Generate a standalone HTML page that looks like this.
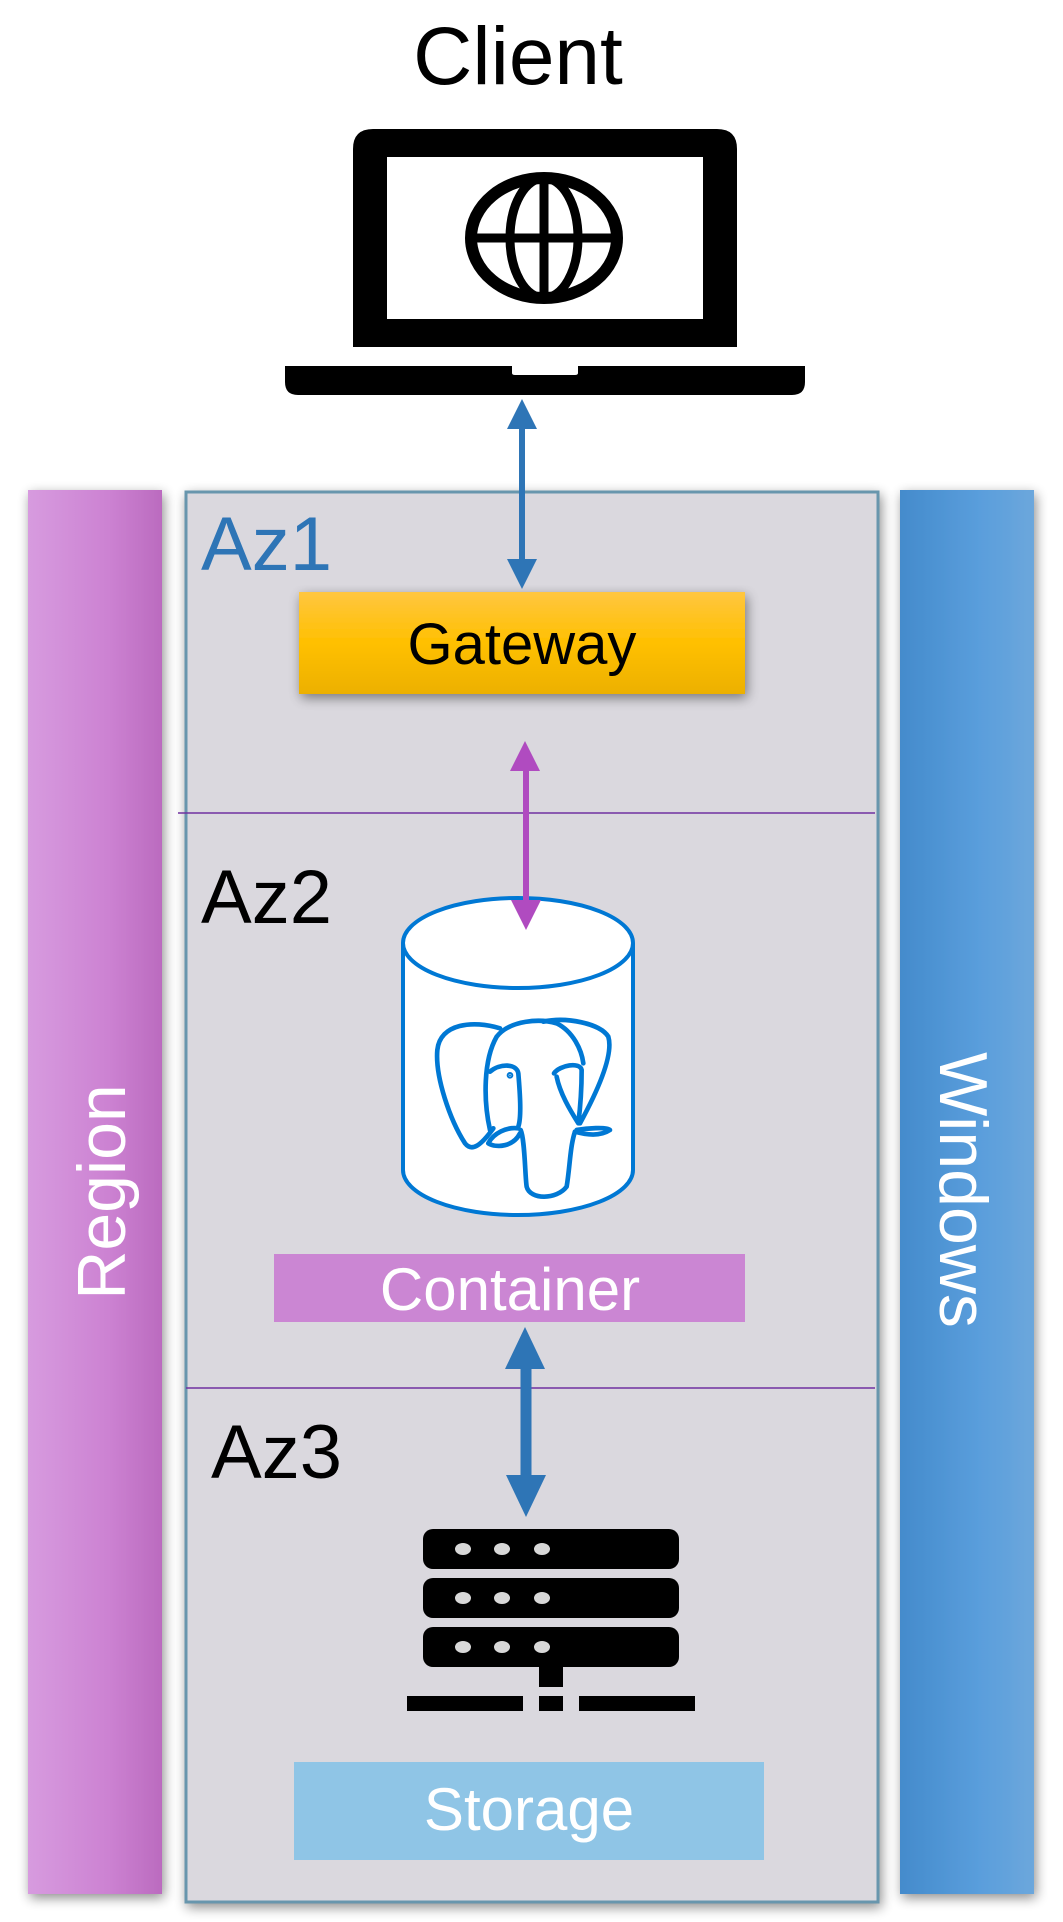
<!DOCTYPE html>
<html><head><meta charset="utf-8"><style>
html,body{margin:0;padding:0;background:#fff;}
svg{display:block;}
text{font-family:"Liberation Sans","DejaVu Sans",sans-serif;}
</style></head><body>
<svg width="1063" height="1922" viewBox="0 0 1063 1922" xmlns="http://www.w3.org/2000/svg">
<defs>
<linearGradient id="reg" x1="0" x2="1"><stop offset="0" stop-color="#d79bdf"/><stop offset="0.6" stop-color="#cc82d2"/><stop offset="1" stop-color="#bb6bbf"/></linearGradient>
<linearGradient id="win" x1="0" x2="1"><stop offset="0" stop-color="#448bcc"/><stop offset="0.6" stop-color="#5a9edc"/><stop offset="1" stop-color="#6ca7dc"/></linearGradient>
<linearGradient id="gw" x1="0" y1="0" x2="0" y2="1"><stop offset="0" stop-color="#ffc640"/><stop offset="0.5" stop-color="#ffc000"/><stop offset="1" stop-color="#ecb000"/></linearGradient>
<filter id="sh" x="-10%" y="-10%" width="120%" height="130%"><feGaussianBlur in="SourceAlpha" stdDeviation="6"/><feOffset dx="2" dy="4"/><feComponentTransfer><feFuncA type="linear" slope="0.45"/></feComponentTransfer><feMerge><feMergeNode/><feMergeNode in="SourceGraphic"/></feMerge></filter>
</defs>

<text x="518" y="84" font-size="82" text-anchor="middle" fill="#000">Client</text>

<!-- laptop -->
<path d="M353,149 Q353,129 373,129 L717,129 Q737,129 737,149 L737,347 L353,347 Z" fill="#000"/>
<rect x="387" y="157" width="316" height="162" fill="#fff"/>
<ellipse cx="544" cy="238" rx="73" ry="60" fill="none" stroke="#000" stroke-width="12"/>
<ellipse cx="544" cy="238" rx="34" ry="60" fill="none" stroke="#000" stroke-width="9"/>
<line x1="544" y1="178" x2="544" y2="298" stroke="#000" stroke-width="9"/>
<line x1="471" y1="238" x2="617" y2="238" stroke="#000" stroke-width="9"/>
<path d="M285,366 L512,366 L512,373 Q512,375 515,375 L575,375 Q578,375 578,373 L578,366 L805,366 L805,382 Q805,395 792,395 L298,395 Q285,395 285,382 Z" fill="#000"/>

<!-- side bars -->
<rect x="28" y="490" width="134" height="1404" fill="url(#reg)" filter="url(#sh)"/>
<rect x="900" y="490" width="134" height="1404" fill="url(#win)" filter="url(#sh)"/>
<text transform="translate(125,1192) rotate(-90)" font-size="68" fill="#fff" text-anchor="middle">Region</text>
<text transform="translate(940,1190) rotate(90)" font-size="68" fill="#fff" text-anchor="middle">Windows</text>

<!-- main box -->
<rect x="186" y="492" width="692" height="1410" fill="#dad8de" stroke="#6896ad" stroke-width="3" filter="url(#sh)"/>
<line x1="178" y1="813" x2="875" y2="813" stroke="#7030a0" stroke-width="1.5"/>
<line x1="186" y1="1388" x2="875" y2="1388" stroke="#7030a0" stroke-width="1.5"/>

<text x="201" y="570" font-size="76" fill="#2e75b6">Az1</text>
<text x="201" y="923" font-size="76" fill="#000">Az2</text>
<text x="211" y="1478" font-size="76" fill="#000">Az3</text>

<!-- gateway -->
<rect x="299" y="592" width="446" height="102" fill="url(#gw)" filter="url(#sh)"/>
<text x="522" y="664" font-size="58" fill="#000" text-anchor="middle">Gateway</text>

<!-- cylinder -->
<path d="M403,943 L403,1170 A115,45 0 0 0 633,1170 L633,943" fill="#fff" stroke="#0078d4" stroke-width="4"/>
<ellipse cx="518" cy="943" rx="115" ry="45" fill="#fff" stroke="#0078d4" stroke-width="4"/>
<g transform="translate(400,1000) scale(0.3333)" fill="none" stroke="#0078d4" stroke-width="14" stroke-linecap="round" stroke-linejoin="round">
<path d="M300,85 C220,60 120,70 112,150 C105,230 150,360 195,430 C215,455 240,440 280,385"/>
<path d="M270,390 C250,300 250,180 290,110 C330,60 420,55 470,70 C520,95 545,150 550,190"/>
<path d="M430,65 C500,50 600,70 625,110 C640,160 600,260 540,370"/>
<path d="M270,215 C300,190 350,190 355,220 C360,280 365,350 355,380"/>
<path d="M355,385 C320,380 280,400 265,430 C290,445 340,440 360,400"/>
<path d="M362,390 C375,420 375,530 380,560 C390,600 470,600 500,560 C510,500 510,440 525,395"/>
<path d="M525,395 C560,405 600,410 630,390 C620,380 560,385 530,390"/>
<path d="M462,220 C480,195 540,185 545,210 C545,270 540,330 535,370 C510,330 480,280 470,230"/>
<circle cx="330" cy="226" r="3" fill="#0078d4"/>
</g>

<!-- container -->
<rect x="274" y="1254" width="471" height="68" fill="#cb86d3"/>
<text x="510" y="1310" font-size="60" fill="#fff" text-anchor="middle">Container</text>

<!-- server -->
<g fill="#000">
<rect x="423" y="1529" width="256" height="40" rx="10"/>
<rect x="423" y="1578" width="256" height="40" rx="10"/>
<rect x="423" y="1627" width="256" height="40" rx="10"/>
<rect x="539" y="1667" width="24" height="20"/>
<rect x="407" y="1696" width="116" height="15"/>
<rect x="539" y="1696" width="24" height="15"/>
<rect x="579" y="1696" width="116" height="15"/>
</g>
<g fill="#d8d8d8">
<ellipse cx="463" cy="1549" rx="8" ry="6"/><ellipse cx="502" cy="1549" rx="8" ry="6"/><ellipse cx="542" cy="1549" rx="8" ry="6"/>
<ellipse cx="463" cy="1598" rx="8" ry="6"/><ellipse cx="502" cy="1598" rx="8" ry="6"/><ellipse cx="542" cy="1598" rx="8" ry="6"/>
<ellipse cx="463" cy="1647" rx="8" ry="6"/><ellipse cx="502" cy="1647" rx="8" ry="6"/><ellipse cx="542" cy="1647" rx="8" ry="6"/>
</g>

<!-- storage -->
<rect x="294" y="1762" width="470" height="98" fill="#8fc5e6"/>
<text x="529" y="1830" font-size="60" fill="#fff" text-anchor="middle">Storage</text>

<!-- arrows -->
<line x1="522" y1="425" x2="522" y2="563" stroke="#2e75b6" stroke-width="6"/>
<polygon points="522,399 507,429 537,429" fill="#2e75b6"/>
<polygon points="522,589 507,559 537,559" fill="#2e75b6"/>

<line x1="526" y1="765" x2="526" y2="905" stroke="#b04bc0" stroke-width="6"/>
<polygon points="525,741 510,771 540,771" fill="#b04bc0"/>
<polygon points="526,930 511,900 541,900" fill="#b04bc0"/>

<line x1="526" y1="1360" x2="526" y2="1480" stroke="#2e75b6" stroke-width="11"/>
<polygon points="525,1327 505,1369 545,1369" fill="#2e75b6"/>
<polygon points="526,1517 506,1475 546,1475" fill="#2e75b6"/>
</svg>
</body></html>
